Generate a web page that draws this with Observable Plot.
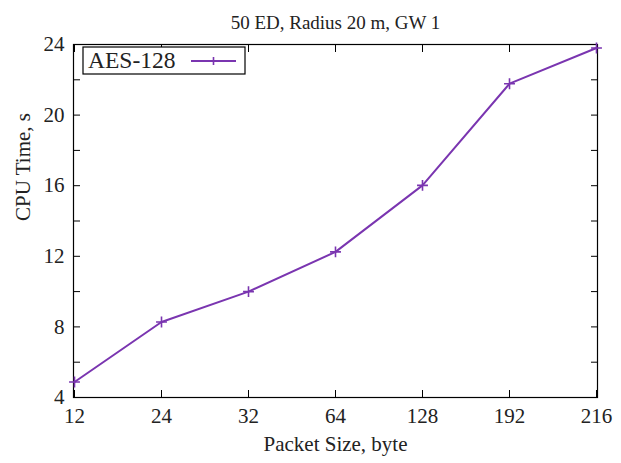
<!DOCTYPE html>
<html><head><meta charset="utf-8">
<script src="https://cdn.jsdelivr.net/npm/d3@7"></script>
<script src="https://cdn.jsdelivr.net/npm/@observablehq/plot@0.6"></script>
<style>
body{margin:0;background:#fff;}
svg, svg text{font-family:"Liberation Serif","Times New Roman",serif !important;}
</style>
</head><body><div id="chart"></div>
<script>
const packetSizes = ["12","24","32","64","128","192","216"];
const cpuTime = [4.88, 8.28, 10.0, 12.25, 16.02, 21.78, 23.8];
const yTicksLabeled = [4, 8, 12, 16, 20, 24];
const yTicksAll = [4, 6, 8, 10, 12, 14, 16, 18, 20, 22, 24];
const seriesName = "AES-128";
const title = "50 ED, Radius 20 m, GW 1";
const xLabel = "Packet Size, byte";
const yLabel = "CPU Time, s";

const color = "#7a35b0";
const data = packetSizes.map((p, i) => ({p, t: cpuTime[i]}));

const chart = Plot.plot({
  width: 621, height: 463,
  marginLeft: 73, marginRight: 24, marginTop: 44, marginBottom: 66,
  style: {fontFamily: "Liberation Serif, serif", fontSize: "21px", background: "#fff"},
  x: {type: "point", domain: packetSizes, padding: 0},
  y: {domain: [4, 24]},
  marks: [
    Plot.axisX({anchor: "bottom", tickSize: -7, tickFormat: () => "", label: null, stroke: "#000"}),
    Plot.axisX({anchor: "top", tickSize: -7, tickFormat: () => "", label: null, stroke: "#000"}),
    Plot.axisX({anchor: "bottom", tickSize: 0, tickPadding: 11, label: null, fontSize: 21, fill: "#222"}),
    Plot.axisY({anchor: "left", ticks: yTicksAll, tickSize: -7, tickFormat: () => "", label: null}),
    Plot.axisY({anchor: "right", ticks: yTicksAll, tickSize: -7, tickFormat: () => "", label: null}),
    Plot.axisY({anchor: "left", ticks: yTicksLabeled, tickSize: 0, tickPadding: 9, label: null, fontSize: 21, fill: "#222"}),
    Plot.frame({stroke: "#000", strokeWidth: 1.2}),
    Plot.line(data, {x: "p", y: "t", stroke: color, strokeWidth: 2}),
    Plot.dot(data, {x: "p", y: "t", symbol: "plus", r: 3.6, stroke: color, strokeWidth: 1.6}),
    Plot.text([title], {frameAnchor: "top", dy: -29, text: d => d, fontSize: 19, fill: "#222"}),
    Plot.text([xLabel], {frameAnchor: "bottom", dy: 53, text: d => d, fontSize: 21, fill: "#222"}),
    Plot.text([yLabel], {frameAnchor: "left", dx: -50, rotate: -90, text: d => d, fontSize: 21, fill: "#222"})
  ]
});
document.getElementById("chart").appendChild(chart);

// legend box
const svg = d3.select(chart);
const lg = svg.append("g").attr("transform", "translate(83,47)");
lg.append("rect").attr("width", 162).attr("height", 27).attr("fill", "#fff").attr("stroke", "#000").attr("stroke-width", 1.2);
lg.append("text").attr("x", 5).attr("y", 21).attr("font-size", 23.5).attr("fill", "#222")
  .attr("text-anchor", "start").text(seriesName);
lg.append("line").attr("x1", 108).attr("x2", 153).attr("y1", 14).attr("y2", 14).attr("stroke", color).attr("stroke-width", 2);
lg.append("path").attr("d", "M126.5,14h8M130.5,10v8").attr("stroke", color).attr("stroke-width", 1.6);
</script></body></html>
